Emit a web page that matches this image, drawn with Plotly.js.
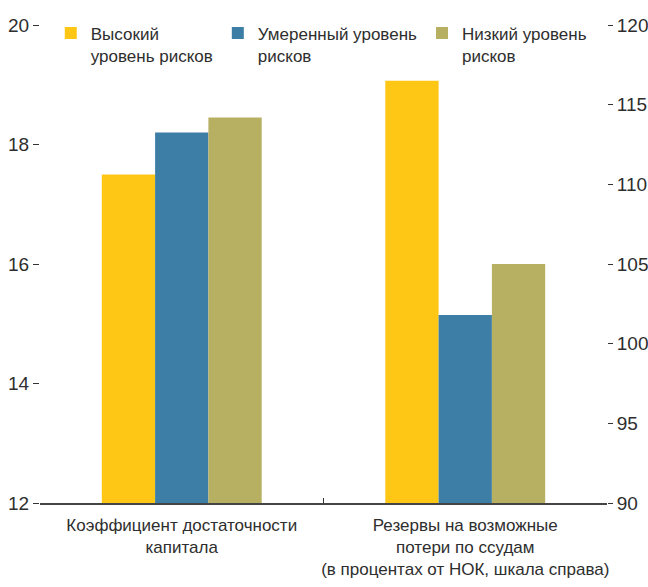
<!DOCTYPE html>
<html><head><meta charset="utf-8">
<script src="https://cdn.plot.ly/plotly-3.0.1.min.js"></script>
<style>html,body{margin:0;padding:0;background:#fff}</style>
</head><body><div id="chart" style="width:648px;height:587px"></div>
<script>
const categories = ["Коэффициент достаточности<br>капитала", "Резервы на возможные<br>потери по ссудам<br>(в процентах от НОК, шкала справа)"];
const seriesNames = ["Высокий<br>уровень рисков", "Умеренный уровень<br>рисков", "Низкий уровень<br>рисков"];
const highRisk = [17.5, 116.5];
const moderateRisk = [18.2, 101.8];
const lowRisk = [18.45, 105.0];
const seriesColors = ["#FEC716", "#3D7EA6", "#B7B063"];
const leftTicks = [12, 14, 16, 18, 20];
const rightTicks = [90, 95, 100, 105, 110, 115, 120];

const FONT = '"Liberation Sans", Arial, sans-serif';
const TEXT = '#2e2e2e';
const seriesValues = [highRisk, moderateRisk, lowRisk];
const traces = [];
seriesValues.forEach((vals, i) => {
  traces.push({
    type: 'bar', name: seriesNames[i], x: [categories[0]], y: [vals[0]],
    yaxis: 'y', offsetgroup: String(i), legendgroup: String(i),
    marker: {color: seriesColors[i], line: {width: 0}}, hoverinfo: 'skip'
  });
  traces.push({
    type: 'bar', name: seriesNames[i], x: [categories[1]], y: [vals[1]],
    yaxis: 'y2', offsetgroup: String(i), legendgroup: String(i), showlegend: false,
    marker: {color: seriesColors[i], line: {width: 0}}, hoverinfo: 'skip'
  });
});

const layout = {
  width: 648, height: 587,
  margin: {l: 40, r: 41, t: 25, b: 84},
  paper_bgcolor: '#fff', plot_bgcolor: '#fff',
  font: {family: FONT, size: 17, color: TEXT},
  barmode: 'group', bargap: 0.436, bargroupgap: 0,
  showlegend: true,
  legend: {orientation: 'h', x: 0.019, xanchor: 'left', y: 1.02, yanchor: 'top', valign: 'top',
           font: {family: FONT, size: 17, color: TEXT}, bgcolor: 'rgba(0,0,0,0)', traceorder: 'normal'},
  xaxis: {type: 'category', tickson: 'boundaries', ticks: 'inside', ticklen: 5, tickcolor: '#333', tickwidth: 1,
          showline: true, linecolor: '#444', linewidth: 1.5, showgrid: false, zeroline: false, tickangle: 0,
          ticklabelstandoff: 6,
          tickfont: {family: FONT, size: 17, color: TEXT}, fixedrange: true},
  yaxis: {range: [12, 20], tickvals: leftTicks, ticks: 'outside', ticklen: 6, tickcolor: '#333', tickwidth: 1,
          showline: false, showgrid: false, zeroline: false, tickfont: {family: FONT, size: 19, color: TEXT}, fixedrange: true},
  yaxis2: {range: [90, 120], overlaying: 'y', side: 'right', tickvals: rightTicks, ticks: 'outside', ticklen: 5,
           tickcolor: '#333', tickwidth: 1, showline: false, showgrid: false, zeroline: false,
           tickfont: {family: FONT, size: 19, color: TEXT}, fixedrange: true}
};

Plotly.newPlot('chart', traces, layout, {displayModeBar: false, staticPlot: true});
</script>
</body></html>
